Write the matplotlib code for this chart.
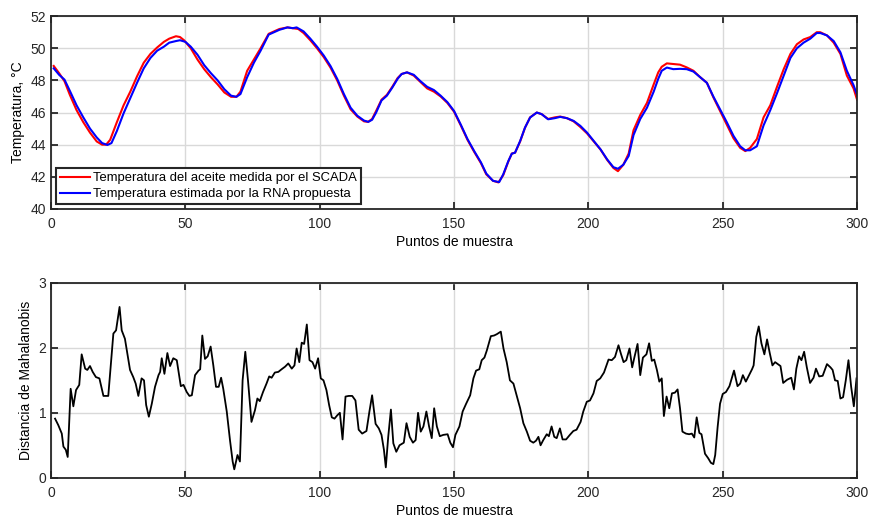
import matplotlib
matplotlib.use("Agg")
import matplotlib.pyplot as plt

plt.rcParams['font.family'] = ['Liberation Sans', 'DejaVu Sans']

# === Data ===
x_scada = [1, 3, 5, 7, 9.5, 12, 14.5, 17, 19, 20.5, 22, 24.5, 27, 29.5, 32, 34.5, 37, 39.5, 42, 44,
           46.5, 48, 49.5, 52, 54.5, 57, 59.5, 62, 64.5, 67, 69, 70.5, 73, 75.5, 78, 81, 83, 85, 88, 90,
           92, 94, 96.5, 99, 101.5, 104, 106.5, 109, 111.5, 114, 116.5, 118, 119.5, 121, 123, 125, 127,
           129, 130.5, 132.5, 135, 137.5, 140, 142.5, 145, 147.5, 150, 152.5, 155, 157.5, 160, 162,
           164.5, 166.5, 168.3, 170.2, 171.5, 172.7, 174.6, 176.4, 178.3, 180.8, 182.6, 185, 187.5,
           189.5, 192, 194.5, 197, 199.5, 202, 204.5, 207, 209.3, 211, 213, 215, 216.8, 219.3, 221.8,
           224.3, 226, 227.3, 229.2, 231.6, 234.1, 236.6, 239.1, 241.6, 244.1, 246.5, 249, 251.5, 254,
           256.5, 258.4, 260.2, 262.7, 265.2, 267.7, 270.2, 272.7, 275.2, 277.6, 280.1, 282.6, 285,
           286.3, 288.8, 291.3, 293.8, 296.2, 298.7, 300]
t_scada = [48.9, 48.45, 47.95, 47.1, 46.15, 45.4, 44.75, 44.2, 44.0, 44.0, 44.3, 45.4, 46.45, 47.3,
           48.25, 49.1, 49.65, 50.05, 50.4, 50.6, 50.75, 50.7, 50.5, 50.0, 49.3, 48.7, 48.2, 47.75,
           47.25, 46.98, 46.98, 47.3, 48.6, 49.3, 50.0, 50.9, 51.05, 51.2, 51.3, 51.25, 51.2, 50.95,
           50.5, 50.0, 49.45, 48.8, 48.0, 47.05, 46.2, 45.75, 45.45, 45.42, 45.6, 46.1, 46.8, 47.1,
           47.6, 48.15, 48.4, 48.5, 48.3, 47.9, 47.5, 47.3, 47.0, 46.6, 46.05, 45.2, 44.3, 43.55,
           42.85, 42.15, 41.75, 41.65, 42.1, 42.95, 43.45, 43.5, 44.2, 45.05, 45.7, 46.0, 45.9, 45.6,
           45.7, 45.75, 45.65, 45.45, 45.1, 44.7, 44.2, 43.7, 43.05, 42.55, 42.35, 42.75, 43.45, 44.9,
           45.85, 46.6, 47.75, 48.5, 48.85, 49.06, 49.02, 48.98, 48.81, 48.6, 48.2, 47.85, 46.95,
           46.1, 45.25, 44.4, 43.8, 43.6, 43.8, 44.35, 45.7, 46.45, 47.6, 48.7, 49.65, 50.25, 50.55,
           50.7, 51.0, 51.0, 50.8, 50.35, 49.65, 48.3, 47.5, 46.8]

x_rna = [1, 3, 5, 7, 9.5, 12, 14.5, 17, 19, 21, 22.5, 24.5, 27, 29.5, 32, 34.5, 37, 39.5, 42, 44,
         46.5, 48, 50, 52, 54.5, 57, 59.5, 62, 64.5, 67, 69, 70.5, 73, 75.5, 78, 81, 83, 85, 88, 90,
         91.4, 94, 96.5, 99, 101.5, 104, 106.5, 109, 111.5, 114, 116.5, 118.1, 119.5, 121, 123, 125,
         127, 129, 130.5, 132.5, 135, 137.5, 140, 142.5, 145, 147.5, 150, 152.5, 155, 157.5, 160,
         162, 164.5, 166.8, 168.3, 170.2, 171.5, 172.7, 174.6, 176.4, 178.3, 180.8, 182.6, 185,
         187.5, 189.5, 192, 194.5, 197, 199.5, 202, 204.5, 207, 209.3, 211, 213, 215, 216.8, 219.3,
         221.8, 224.3, 226, 227.3, 229.2, 231.6, 234.1, 236.6, 239.1, 241.6, 244.1, 246.5, 249,
         251.5, 254, 256.5, 258.4, 260.2, 262.7, 265.2, 267.7, 270.2, 272.7, 275.2, 277.6, 280.1,
         282.6, 285, 286.3, 288.8, 291.3, 293.8, 296.2, 298.7, 300]
t_rna = [48.75, 48.35, 48.05, 47.35, 46.45, 45.7, 45.0, 44.45, 44.1, 43.98, 44.1, 44.85, 45.95,
         46.9, 47.85, 48.75, 49.4, 49.85, 50.1, 50.35, 50.45, 50.5, 50.4, 50.1, 49.6, 48.95, 48.45,
         48.0, 47.45, 47.05, 46.98, 47.15, 48.2, 49.1, 49.85, 50.85, 51.0, 51.15, 51.3, 51.25, 51.3,
         51.05, 50.6, 50.1, 49.55, 48.9, 48.1, 47.15, 46.3, 45.8, 45.5, 45.42, 45.55, 46.0, 46.75,
         47.05, 47.55, 48.1, 48.4, 48.5, 48.35, 47.95, 47.6, 47.4, 47.05, 46.65, 46.1, 45.25, 44.35,
         43.6, 42.9, 42.2, 41.75, 41.67, 42.15, 42.98, 43.44, 43.5, 44.23, 45.06, 45.69, 46.0, 45.9,
         45.58, 45.65, 45.73, 45.65, 45.48, 45.17, 44.75, 44.23, 43.71, 43.08, 42.6, 42.5, 42.75,
         43.3, 44.6, 45.6, 46.3, 47.3, 48.1, 48.6, 48.8, 48.7, 48.72, 48.7, 48.55, 48.2, 47.85, 47.0,
         46.2, 45.4, 44.55, 43.9, 43.65, 43.65, 43.9, 45.2, 46.15, 47.2, 48.3, 49.4, 50.0, 50.35,
         50.6, 50.95, 50.95, 50.8, 50.45, 49.75, 48.6, 47.7, 47.1]

x_dist = [1.5, 2.7, 4, 4.6, 5.5, 6.2, 7.3, 8.3, 9.3, 10.5, 11.4, 12.7, 13.5, 14.5, 15.5, 16.7, 18,
          19.5, 21.3, 23.2, 24.2, 25.5, 26.3, 27.5, 29.4, 30.6, 31.5, 32.5, 33.7, 34.6, 35.4, 36.4,
          37.5, 38.7, 40, 40.6, 41.2, 42.2, 43.3, 44.3, 45.5, 46.8, 48.3, 49.3, 50.5, 51.5, 52.4,
          53.6, 54.9, 55.5, 56.3, 57.3, 58.3, 59.4, 60.4, 61.4, 62.4, 63.3, 64.1, 65.4, 66.6, 67.6,
          68.2, 69.4, 70.3, 71.3, 72.3, 73.3, 74.6, 75.9, 76.8, 77.7, 78.9, 80.2, 81.2, 82.1, 83.3,
          84.6, 85.8, 87.1, 88.3, 89.6, 90.6, 91.4, 92.4, 93.3, 94.2, 95.2, 96.2, 97.3, 98.3, 99.4,
          100.4, 101.4, 102.5, 103.5, 104.5, 105.5, 106.5, 107.5, 108.5, 109.6, 110.8, 112.1, 113.3,
          114.5, 115.8, 117.4, 118.5, 119.5, 120.8, 122, 123, 123.9, 124.6, 125.5, 126.5, 127.4,
          128.5, 129.7, 131.3, 132.3, 133.5, 134.7, 135.7, 136.6, 137.6, 138.6, 139.7, 140.7, 141.7,
          142.6, 143.6, 144.7, 146, 147.6, 148.6, 149.6, 150.5, 152, 153.2, 154.5, 156, 157.2, 158.2,
          159.4, 160.3, 161.3, 162.2, 163.7, 164.9, 165.9, 167.4, 168.4, 169.6, 170.8, 172.1, 173.3,
          174.6, 175.8, 177.1, 178.3, 179.5, 180.5, 181.4, 182.2, 183.2, 184.5, 185.3, 186.3, 187.3,
          188.2, 189.4, 190.4, 191.7, 193.1, 194.4, 195.6, 197.1, 198.1, 199.4, 200.6, 201.9, 203.1,
          204.4, 205.8, 207.5, 208.7, 209.9, 211.2, 212.1, 213.1, 214.1, 215.3, 216.3, 217.1, 218.3,
          219.3, 220.3, 221.6, 222.6, 223.6, 224.5, 225.5, 226.4, 227.3, 228.1, 229.1, 230.1, 231.1,
          232.2, 233.2, 234.1, 235, 236.3, 237.5, 238.5, 239.4, 240.3, 241.3, 242.1, 243.4, 244.6,
          245.6, 246.5, 247.2, 248.1, 249, 250, 251.2, 252.5, 254.2, 255.5, 256.5, 257.5, 258.6,
          259.8, 260.9, 261.5, 262.5, 263.4, 264.4, 265.5, 266.5, 267.5, 268.5, 269.5, 270.5, 271.5,
          272.5, 274, 275.5, 276.5, 277.4, 278.4, 279.3, 280.3, 281.3, 282.5, 283.8, 284.7, 285.9,
          287.2, 288.8, 290.1, 290.9, 291.8, 292.8, 293.8, 294.8, 295.8, 296.8, 297.8, 298.8, 299.8]
d_mahal = [0.91, 0.81, 0.68, 0.48, 0.43, 0.32, 1.37, 1.1, 1.35, 1.43, 1.9, 1.68, 1.66, 1.72, 1.63,
           1.55, 1.53, 1.26, 1.26, 2.22, 2.27, 2.63, 2.27, 2.14, 1.66, 1.55, 1.45, 1.26, 1.53, 1.5,
           1.12, 0.94, 1.14, 1.4, 1.58, 1.63, 1.84, 1.6, 1.92, 1.72, 1.84, 1.81, 1.41, 1.43, 1.32,
           1.26, 1.27, 1.58, 1.65, 1.67, 2.19, 1.83, 1.87, 2.02, 1.73, 1.4, 1.4, 1.54, 1.37, 1.02,
           0.58, 0.25, 0.13, 0.35, 0.25, 1.5, 1.94, 1.5, 0.86, 1.04, 1.22, 1.18, 1.32, 1.45, 1.56,
           1.54, 1.62, 1.63, 1.67, 1.71, 1.76, 1.68, 1.73, 1.99, 1.78, 2.08, 2.06, 2.36, 1.81, 1.78,
           1.68, 1.84, 1.53, 1.5, 1.35, 1.12, 0.93, 0.91, 0.96, 1.0, 0.59, 1.25, 1.26, 1.26, 1.19,
           0.74, 0.68, 0.72, 1.02, 1.27, 0.83, 0.76, 0.66, 0.43, 0.16, 0.63, 1.05, 0.53, 0.4, 0.5,
           0.54, 0.84, 0.63, 0.54, 0.58, 1.0, 0.71, 0.79, 1.02, 0.79, 0.61, 1.07, 0.79, 0.64, 0.66,
           0.67, 0.54, 0.47, 0.66, 0.79, 1.02, 1.14, 1.27, 1.53, 1.65, 1.67, 1.81, 1.85, 1.96, 2.18,
           2.19, 2.21, 2.25, 1.99, 1.78, 1.5, 1.45, 1.27, 1.07, 0.84, 0.71, 0.57, 0.54, 0.57, 0.63,
           0.5, 0.58, 0.67, 0.64, 0.79, 0.63, 0.61, 0.76, 0.59, 0.59, 0.66, 0.72, 0.74, 0.86, 1.02,
           1.17, 1.19, 1.3, 1.49, 1.53, 1.62, 1.82, 1.81, 1.86, 2.04, 1.91, 1.78, 1.81, 1.99, 1.7,
           1.85, 2.06, 1.58, 1.85, 1.9, 2.07, 1.8, 1.82, 1.66, 1.48, 1.53, 0.95, 1.25, 1.07, 1.3,
           1.31, 1.36, 1.07, 0.71, 0.68, 0.67, 0.68, 0.62, 0.93, 0.69, 0.67, 0.37, 0.3, 0.23, 0.21,
           0.35, 0.78, 1.14, 1.29, 1.32, 1.41, 1.65, 1.41, 1.45, 1.58, 1.48, 1.58, 1.67, 1.73, 2.17,
           2.33, 2.07, 1.9, 2.13, 1.92, 1.73, 1.78, 1.75, 1.72, 1.46, 1.51, 1.54, 1.36, 1.68, 1.87,
           1.81, 1.94, 1.7, 1.46, 1.54, 1.68, 1.56, 1.57, 1.75, 1.7, 1.66, 1.5, 1.49, 1.22, 1.24,
           1.5, 1.81, 1.4, 1.1, 1.53]

# === Plot ===
fig = plt.figure(figsize=(8.71, 5.21), dpi=100)
ax1 = fig.add_axes([0.0586, 0.599, 0.9254, 0.370])
ax2 = fig.add_axes([0.0586, 0.083, 0.9254, 0.374])

ax1.plot(x_scada, t_scada, color='red', lw=1.5, label='Temperatura del aceite medida por el SCADA')
ax1.plot(x_rna, t_rna, color='blue', lw=1.5, label='Temperatura estimada por la RNA propuesta')
ax1.set_xlim(0, 300)
ax1.set_ylim(40, 52)
ax1.set_yticks(range(40, 53, 2))
ax1.set_ylabel('Temperatura, °C', fontsize=10)
ax1.set_xlabel('Puntos de muestra', fontsize=10, labelpad=3)
leg = ax1.legend(loc='lower left', fontsize=9.4, fancybox=False, framealpha=1,
                 edgecolor='#262626', borderaxespad=0.35, handlelength=2.3,
                 handletextpad=0.3, borderpad=0.3, labelspacing=0.3)
leg.get_frame().set_linewidth(1.5)

ax2.plot(x_dist, d_mahal, color='black', lw=1.3)
ax2.set_xlim(0, 300)
ax2.set_ylim(0, 3)
ax2.set_yticks([0, 1, 2, 3])
ax2.set_ylabel('Distancia de Mahalanobis', fontsize=10)
ax2.set_xlabel('Puntos de muestra', fontsize=10, labelpad=3)

for ax in (ax1, ax2):
    ax.set_xticks(range(0, 301, 50))
    ax.grid(True, color='#d9d9d9', lw=1)
    ax.set_axisbelow(True)
    ax.tick_params(direction='in', top=True, right=True, length=5, width=1.3,
                   labelsize=10, colors='#262626', labelcolor='#262626')
    ax.tick_params(axis='x', pad=6)
    for s in ax.spines.values():
        s.set_linewidth(1.3)
        s.set_color('#262626')

fig.savefig('out.png', dpi=100)
